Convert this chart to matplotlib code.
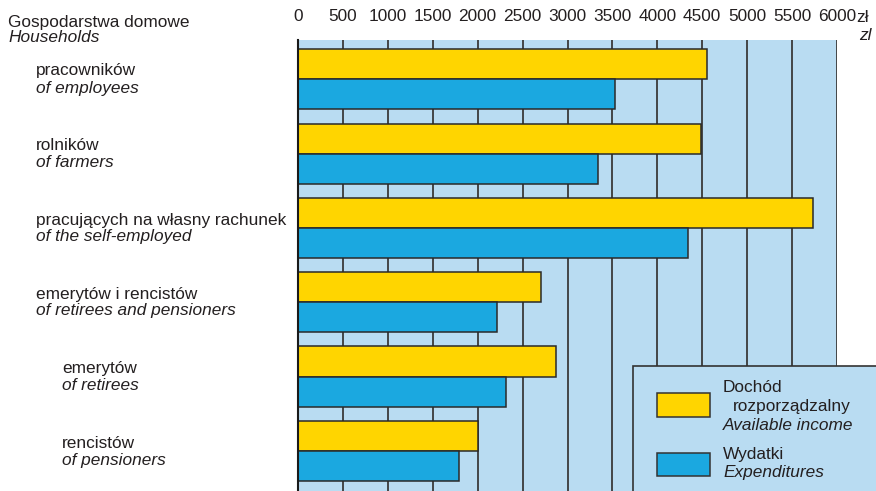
import matplotlib
matplotlib.use("Agg")
import matplotlib.pyplot as plt
from matplotlib.patches import Rectangle
import numpy as np

plt.rcParams['font.family'] = ['Liberation Sans', 'DejaVu Sans']

labels_pl = ["pracowników", "rolników", "pracujących na własny rachunek",
             "emerytów i rencistów", "emerytów", "rencistów"]
labels_en = ["of employees", "of farmers", "of the self-employed",
             "of retirees and pensioners", "of retirees", "of pensioners"]
income = [4550, 4490, 5730, 2700, 2870, 2000]
expend = [3530, 3340, 4340, 2220, 2320, 1790]
ticks = [0, 500, 1000, 1500, 2000, 2500, 3000, 3500, 4000, 4500, 5000, 5500, 6000]

W, H = 876, 491
fig = plt.figure(figsize=(W/100, H/100), dpi=100)
ax = fig.add_axes([298/W, 0, (837-298)/W, (491-40)/H])

TXT = '#231F20'
LB = '#B9DCF2'
YEL = '#FFD500'
BLU = '#1BA8E0'
ax.set_facecolor(LB)
y = np.arange(len(labels_pl))
bh = 0.405
ax.barh(y - bh/2, income, height=bh, color=YEL, edgecolor='#2a2a2a', linewidth=1.1, zorder=3)
ax.barh(y + bh/2, expend, height=bh, color=BLU, edgecolor='#2a2a2a', linewidth=1.1, zorder=3)
ax.set_xlim(0, 6000)
ax.set_ylim(5.54, -0.53)
ax.set_xticks(ticks)
ax.xaxis.tick_top()
ax.tick_params(axis='x', length=0, pad=11.5, labelsize=12.4, colors=TXT)
ax.set_yticks([])
ax.grid(axis='x', color='#3a3a3a', linewidth=1.3, zorder=1)
for s in ['top', 'bottom', 'right']:
    ax.spines[s].set_visible(False)
ax.spines['left'].set_color('#1a1a1a')
ax.spines['left'].set_linewidth(1.5)
ax.spines['left'].set_zorder(4)

fs = 12.4
fig.text(8/W, 1-22/H, "Gospodarstwa domowe", fontsize=fs, va='center', ha='left', color=TXT)
fig.text(8/W, 1-38/H, "Households", fontsize=fs, va='center', ha='left', style='italic', color=TXT)
indent = [36, 36, 36, 36, 62, 62]
centers = [79, 153.5, 228, 302, 377, 451]
for i in range(len(labels_pl)):
    fig.text(indent[i]/W, 1-(centers[i]-8)/H, labels_pl[i], fontsize=fs, va='center', ha='left', color=TXT)
    fig.text(indent[i]/W, 1-(centers[i]+9)/H, labels_en[i], fontsize=fs, va='center', ha='left', style='italic', color=TXT)

fig.text(856/W, 1-17/H, "zł", fontsize=12.4, va='center', ha='left', color=TXT)
fig.text(859/W, 1-35/H, "zl", fontsize=12.4, va='center', ha='left', style='italic', color=TXT)

# legend box
fig.add_artist(Rectangle((633/W, -0.01), (W-633+5)/W, (491-366)/H + 0.01, transform=fig.transFigure,
                         facecolor=LB, edgecolor='#333333', linewidth=1.2, zorder=5))
fig.add_artist(Rectangle((657/W, 1-417/H), 53/W, 24/H, transform=fig.transFigure,
                         facecolor=YEL, edgecolor='#333333', linewidth=1.1, zorder=6))
fig.add_artist(Rectangle((657/W, 1-476/H), 53/W, 23/H, transform=fig.transFigure,
                         facecolor=BLU, edgecolor='#333333', linewidth=1.1, zorder=6))
fig.text(723/W, 1-387/H, "Dochód", fontsize=fs, va='center', ha='left', color=TXT, zorder=7)
fig.text(733/W, 1-407/H, "rozporządzalny", fontsize=fs, va='center', ha='left', color=TXT, zorder=7)
fig.text(723/W, 1-425/H, "Available income", fontsize=fs, va='center', ha='left', style='italic', color=TXT, zorder=7)
fig.text(723/W, 1-455/H, "Wydatki", fontsize=fs, va='center', ha='left', color=TXT, zorder=7)
fig.text(723/W, 1-473/H, "Expenditures", fontsize=fs, va='center', ha='left', style='italic', color=TXT, zorder=7)

fig.savefig("out.png", dpi=100)
